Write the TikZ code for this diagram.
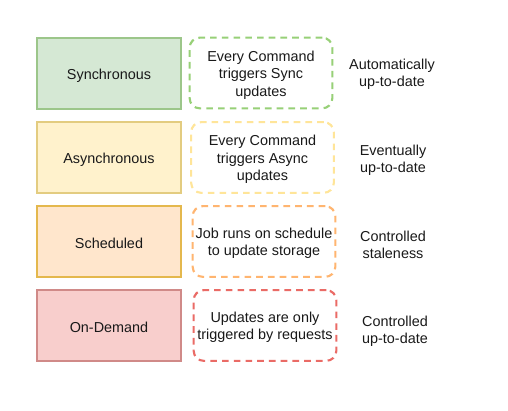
\documentclass[tikz,border=0pt]{standalone}
\usepackage{fontspec}
\setmainfont{Liberation Sans}
% fills and borders of the four strategy boxes
\definecolor{syncfill}{HTML}{D5E8D4}\definecolor{syncline}{HTML}{9CC68A}
\definecolor{asyncfill}{HTML}{FFF2CC}\definecolor{asyncline}{HTML}{E3CC80}
\definecolor{schedfill}{HTML}{FFE6CC}\definecolor{schedline}{HTML}{E4B84D}
\definecolor{demandfill}{HTML}{F8CECC}\definecolor{demandline}{HTML}{D08A88}
% dashed outlines of the description boxes
\definecolor{syncdash}{HTML}{97D077}
\definecolor{asyncdash}{HTML}{FFE599}
\definecolor{scheddash}{HTML}{FFB570}
\definecolor{demanddash}{HTML}{EA6B66}
\begin{document}
\begin{tikzpicture}[x=0.75pt,y=-0.75pt,
  lbl/.style={font=\fontsize{10.8}{13}\selectfont, align=center, text=black!90},
  kind/.style={draw, line width=1.3pt, minimum width=107.5pt, minimum height=53.5pt, inner sep=0pt},
  note/.style={draw, line width=1.6pt, rounded corners=7.5pt, dash pattern=on 5pt off 3.8pt,
    minimum width=107pt, minimum height=53pt, inner sep=0pt, fill=white},
  txt/.style={label={[lbl, yshift=-1.5pt]center:#1}},
  result/.style={lbl},
]
\useasboundingbox (0,0) rectangle (508,411);

% strategy boxes
\node[kind, fill=syncfill, draw=syncline, txt={Synchronous}]     (sync)   at (109,73.5)  {};
\node[kind, fill=asyncfill, draw=asyncline, txt={Asynchronous}]  (async)  at (109,157.5) {};
\node[kind, fill=schedfill, draw=schedline, txt={Scheduled}]     (sched)  at (109,241.5) {};
\node[kind, fill=demandfill, draw=demandline, txt={On-Demand}]   (demand) at (109,325.5) {};

% how each strategy updates
\node[note, draw=syncdash, txt={Every Command\\triggers Sync\\updates}]          (syncnote)   at (261,73)      {};
\node[note, draw=asyncdash, txt={Every Command\\triggers Async\\updates}]        (asyncnote)  at (262.5,157.5) {};
\node[note, draw=scheddash, txt={Job runs on schedule\\to update storage}]       (schednote)  at (264,241.5)   {};
\node[note, draw=demanddash, txt={Updates are only\\triggered by requests}]      (demandnote) at (265,325.5)   {};

% resulting freshness
\node[result] (syncres)   at (392,74.5)  {Automatically\\up-to-date};
\node[result] (asyncres)  at (393,160)   {Eventually\\up-to-date};
\node[result] (schedres)  at (393,245)   {Controlled\\staleness};
\node[result] (demandres) at (395,331)   {Controlled\\up-to-date};
\end{tikzpicture}
\end{document}
